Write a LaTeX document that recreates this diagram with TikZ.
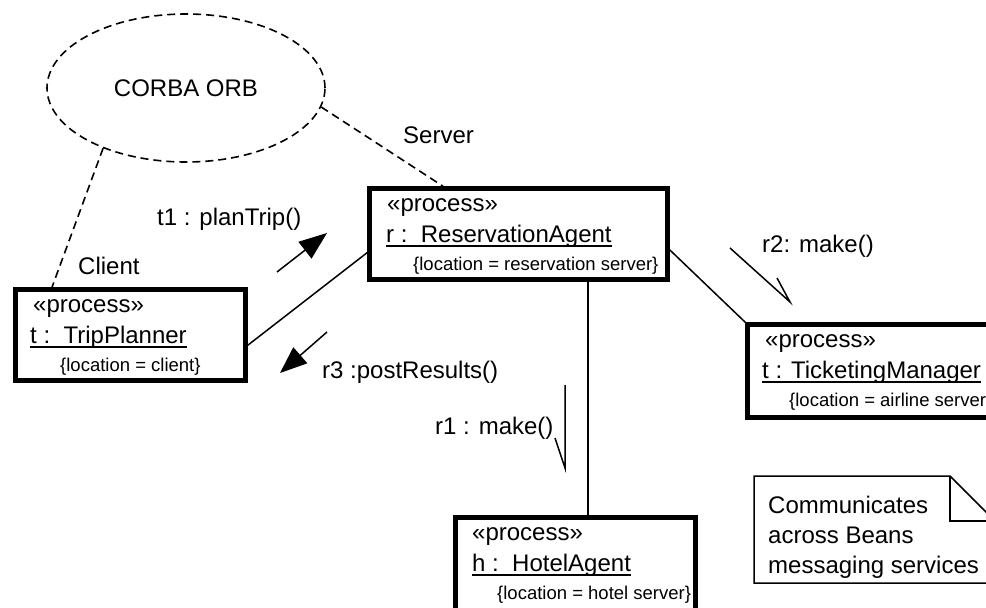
\documentclass[tikz,border=0pt]{standalone}
\usepackage{fontspec}
\setmainfont{Liberation Sans}
\usetikzlibrary{shapes.geometric,arrows.meta}
\begin{document}
\begin{tikzpicture}[x=1pt,y=-1pt,
  pbox/.style={draw, line width=4.5pt, rectangle, inner sep=0pt},
  lbl/.style={inner sep=0pt, anchor=base west, font=\fontsize{24}{28}\selectfont},
  loc/.style={inner sep=0pt, anchor=base west, font=\fontsize{18.5}{22}\selectfont},
  conn/.style={line width=1.5pt},
  dline/.style={line width=1.6pt, dash pattern=on 8pt off 5pt},
  uline/.style={line width=1.3pt}
]
\useasboundingbox (0,0) rectangle (986,608);
\clip (0,0) rectangle (986,608);

% CORBA ORB
\node[dline, draw, ellipse, minimum width=278pt, minimum height=148pt, inner sep=0pt,
      font=\fontsize{24}{28}\selectfont] (orb) at (186,88) {CORBA ORB};

% process boxes
\node[pbox, minimum width=230pt, minimum height=91pt] (tp) at (130.5,335) {};
\node[pbox, minimum width=298pt, minimum height=91pt] (ra) at (518.5,234) {};
\node[pbox, minimum width=262.5pt, minimum height=93pt] (tm) at (878.75,371) {};
\node[pbox, minimum width=240pt, minimum height=107.5pt] (ha) at (575.5,571.25) {};

% TripPlanner text
\node[lbl] (tpS) at (33,312) {«process»};
\node[lbl] (tpN) at (30,343) {t :\ \ TripPlanner};
\node[loc] (tpL) at (60,371) {\{location = client\}};
\draw[uline] ([yshift=-4pt]tpN.base west) -- ([yshift=-4pt]tpN.base east);

% ReservationAgent text
\node[lbl] (raS) at (387,211) {«process»};
\node[lbl] (raN) at (386,242) {r :\ \ ReservationAgent};
\node[loc] (raL) at (413,270) {\{location = reservation server\}};
\draw[uline] ([yshift=-4pt]raN.base west) -- ([yshift=-4pt]raN.base east);

% TicketingManager text
\node[lbl] (tmS) at (765,347) {«process»};
\node[lbl] (tmN) at (762,378) {t : TicketingManager};
\node[loc] (tmL) at (789,406) {\{location = airline server};
\draw[uline] ([yshift=-4pt]tmN.base west) -- ([yshift=-4pt]tmN.base east);

% HotelAgent text
\node[lbl] (haS) at (472,540) {«process»};
\node[lbl] (haN) at (472,571) {h :\ \ HotelAgent};
\node[loc] (haL) at (497,599) {\{location = hotel server\}};
\draw[uline] ([yshift=-4pt]haN.base west) -- ([yshift=-4pt]haN.base east);

% links
\draw[conn] (tp.355) -- (ra.187);
\draw[conn] (ra.354) -- (tm.north west);
\coordinate (raH) at ([xshift=69.5pt]ra.south);
\draw[conn] (raH) -- (raH |- ha.north);

% ORB dependencies
\draw[dline] (orb.216) -- ([xshift=-78.5pt]tp.north);
\draw[dline] (orb.352) -- ([xshift=-75.5pt]ra.north);

% role labels
\node[lbl] (lServer) at (403,143) {Server};
\node[lbl] (lClient) at (78,274) {Client};

% messages
\coordinate (t1a) at (277,272); \coordinate (t1b) at (327,233);
\draw[conn, -{Triangle[length=28pt,width=21pt]}] (t1a) -- (t1b);
\node[lbl] (lt1) at (157,225) {t1 : planTrip()};

\coordinate (r3a) at (327,332); \coordinate (r3b) at (280,373);
\draw[conn, -{Triangle[length=27pt,width=21pt]}] (r3a) -- (r3b);
\node[lbl] (lr3) at (322,378) {r3 :postResults()};

\coordinate (r2a) at (730,248); \coordinate (r2b) at (790,302); \coordinate (r2c) at (777,278);
\draw[conn] (r2a) -- (r2b) -- (r2c);
\node[lbl] (lr2) at (762,252) {r2: make()};

\coordinate (r1a) at (565,385); \coordinate (r1b) at (565,468); \coordinate (r1c) at (555,438);
\draw[conn] (r1a) -- (r1b) -- (r1c);
\node[lbl] (lr1) at (435,434) {r1 : make()};

% note
\coordinate (nA) at (754,476); \coordinate (nB) at (950,476); \coordinate (nC) at (995,521);
\coordinate (nD) at (995,583); \coordinate (nE) at (754,583); \coordinate (nF) at (950,521);
\draw[conn] (nA) -- (nB) -- (nC) -- (nD) -- (nE) -- cycle;
\draw[conn] (nB) -- (nF) -- (nC);
\node[lbl] (note1) at (768,513) {Communicates};
\node[lbl] (note2) at (768,543) {across Beans};
\node[lbl] (note3) at (768,573) {messaging services};
\end{tikzpicture}
\end{document}
